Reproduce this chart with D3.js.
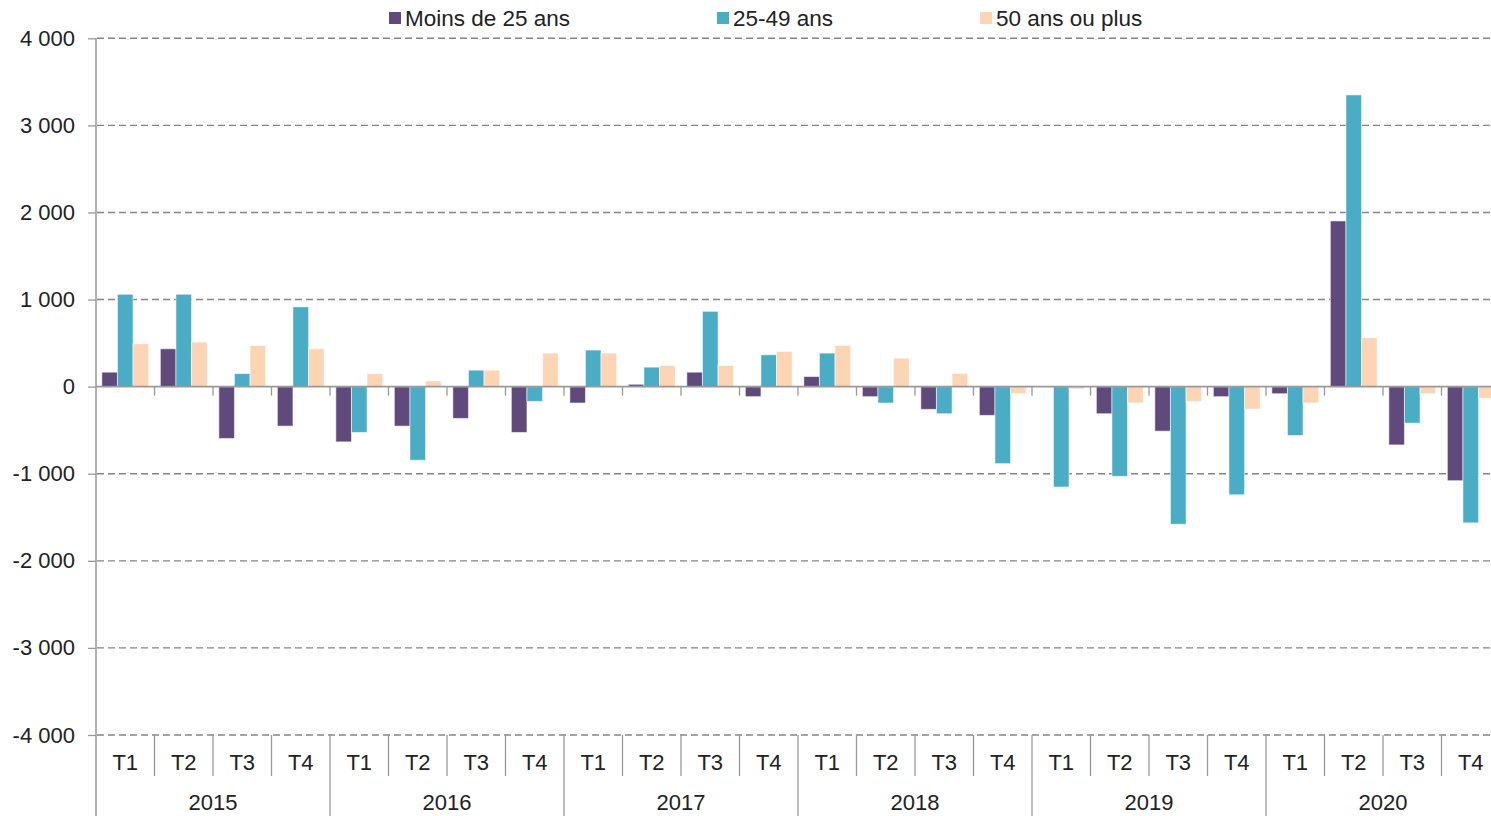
<!DOCTYPE html>
<html>
<head>
<meta charset="utf-8">
<script src="https://cdn.jsdelivr.net/npm/d3@7"></script>
<style>
  body { margin: 0; background: #fff; }
  svg { display: block; font-family: "Liberation Sans", Arial, sans-serif; }
</style>
</head>
<body>
<svg id="chart"></svg>
<script>
// quarters and years
var quarters = ["T1", "T2", "T3", "T4"];
var years = ["2015", "2016", "2017", "2018", "2019", "2020"];

// series, one value per quarter 2015 T1 .. 2020 T4
var moins25 = [166, 435, -595, -453, -634, -453, -365, -526, -188, 27, 166, -115,
               116, -115, -261, -330, 0, -311, -511, -115, -81, 1903, -669, -1080];
var age2549 = [1061, 1061, 150, 916, -526, -845, 189, -169, 420, 224, 865, 366,
               385, -188, -311, -884, -1153, -1030, -1580, -1241, -561, 3350, -419, -1564];
var plus50 = [492, 512, 473, 435, 150, 66, 189, 385, 385, 243, 243, 404,
              473, 327, 150, -81, -27, -188, -169, -257, -188, 562, -81, -134];

var seriesNames = ["Moins de 25 ans", "25-49 ans", "50 ans ou plus"];
var yTicks = [-4000, -3000, -2000, -1000, 0, 1000, 2000, 3000, 4000];

var colors = ["#604a7b", "#4bacc6", "#fcd5b5"];
var W = 1491, H = 816;

var svg = d3.select("#chart").attr("width", W).attr("height", H);

// one entry per quarter
var cats = [];
years.forEach(function (y) {
  quarters.forEach(function (q) { cats.push({ year: y, q: q, key: y + q }); });
});
var series = [moins25, age2549, plus50];

var x = d3.scaleBand()
  .domain(cats.map(function (d) { return d.key; }))
  .range([96, 96 + 24 * 58.5])
  .paddingInner(0.2)
  .paddingOuter(0.1);
var step = x.step();

var xSub = d3.scaleBand()
  .domain([0, 1, 2])
  .range([0, x.bandwidth()]);

var y = d3.scaleLinear().domain([-4000, 4000]).range([735, 38.3]);

var fmt = function (v) { return d3.format(",")(v).replace(/,/g, " ").replace("−", "-"); };

// gridlines (dashed)
svg.append("g")
  .selectAll("line")
  .data(yTicks.filter(function (t) { return t !== 0; }))
  .join("line")
  .attr("x1", 97).attr("x2", W)
  .attr("y1", function (d) { return y(d); })
  .attr("y2", function (d) { return y(d); })
  .attr("stroke", "#858585")
  .attr("stroke-width", 1.4)
  .attr("stroke-dasharray", "7,4");

// bars
series.forEach(function (vals, i) {
  svg.append("g")
    .selectAll("rect")
    .data(cats)
    .join("rect")
    .attr("x", function (d) { return x(d.key) + xSub(i); })
    .attr("width", xSub.bandwidth())
    .attr("y", function (d, j) { return y(Math.max(0, vals[j])); })
    .attr("height", function (d, j) { return Math.abs(y(vals[j]) - y(0)); })
    .attr("fill", colors[i])
    .attr("stroke", "rgba(255,255,255,0.55)")
    .attr("stroke-width", 1);
});

// y axis
var yAxis = svg.append("g")
  .attr("transform", "translate(96,0)")
  .call(d3.axisLeft(y).tickValues(yTicks).tickSize(8).tickPadding(13).tickFormat(fmt));
yAxis.select(".domain").remove();
yAxis.selectAll(".tick line").attr("stroke", "#999").attr("stroke-width", 1.3);
yAxis.selectAll("text")
  .attr("fill", "#222")
  .style("font-size", "22px");

svg.append("line")
  .attr("x1", 96).attr("x2", 96)
  .attr("y1", y(4000)).attr("y2", H)
  .attr("stroke", "#999").attr("stroke-width", 1.5);

// zero line with ticks between quarters
svg.append("line")
  .attr("x1", 96).attr("x2", W)
  .attr("y1", y(0)).attr("y2", y(0))
  .attr("stroke", "#999").attr("stroke-width", 1.8);

var bounds = cats.slice(1).map(function (d) { return x(d.key) - step * 0.1; });
svg.append("g")
  .selectAll("line")
  .data(bounds)
  .join("line")
  .attr("x1", function (d) { return d; })
  .attr("x2", function (d) { return d; })
  .attr("y1", y(0)).attr("y2", y(0) + 9)
  .attr("stroke", "#999").attr("stroke-width", 1.3);

// category labels at the bottom
svg.append("g")
  .selectAll("line")
  .data(cats.slice(1))
  .join("line")
  .attr("x1", function (d) { return x(d.key) - step * 0.1; })
  .attr("x2", function (d) { return x(d.key) - step * 0.1; })
  .attr("y1", y(-4000))
  .attr("y2", function (d) { return d.q === "T1" ? H : 776; })
  .attr("stroke", "#999").attr("stroke-width", 1.3);

svg.append("g")
  .selectAll("text")
  .data(cats)
  .join("text")
  .attr("x", function (d) { return x(d.key) + x.bandwidth() / 2; })
  .attr("y", 770)
  .attr("text-anchor", "middle")
  .attr("fill", "#222")
  .style("font-size", "22px")
  .text(function (d) { return d.q; });

svg.append("g")
  .selectAll("text")
  .data(years)
  .join("text")
  .attr("x", function (d) { return x(d + "T1") - step * 0.1 + step * 2; })
  .attr("y", 810)
  .attr("text-anchor", "middle")
  .attr("fill", "#222")
  .style("font-size", "22px")
  .text(function (d) { return d; });

// legend
var legendX = [389, 717, 980];
var legend = svg.append("g")
  .selectAll("g")
  .data(seriesNames)
  .join("g")
  .attr("transform", function (d, i) { return "translate(" + legendX[i] + ",0)"; });
legend.append("rect")
  .attr("x", 0).attr("y", 12)
  .attr("width", 12).attr("height", 12)
  .attr("fill", function (d, i) { return colors[i]; });
legend.append("text")
  .attr("x", 16).attr("y", 26)
  .attr("fill", "#222")
  .style("font-size", "22.5px")
  .text(function (d) { return d; });
</script>
</body>
</html>
